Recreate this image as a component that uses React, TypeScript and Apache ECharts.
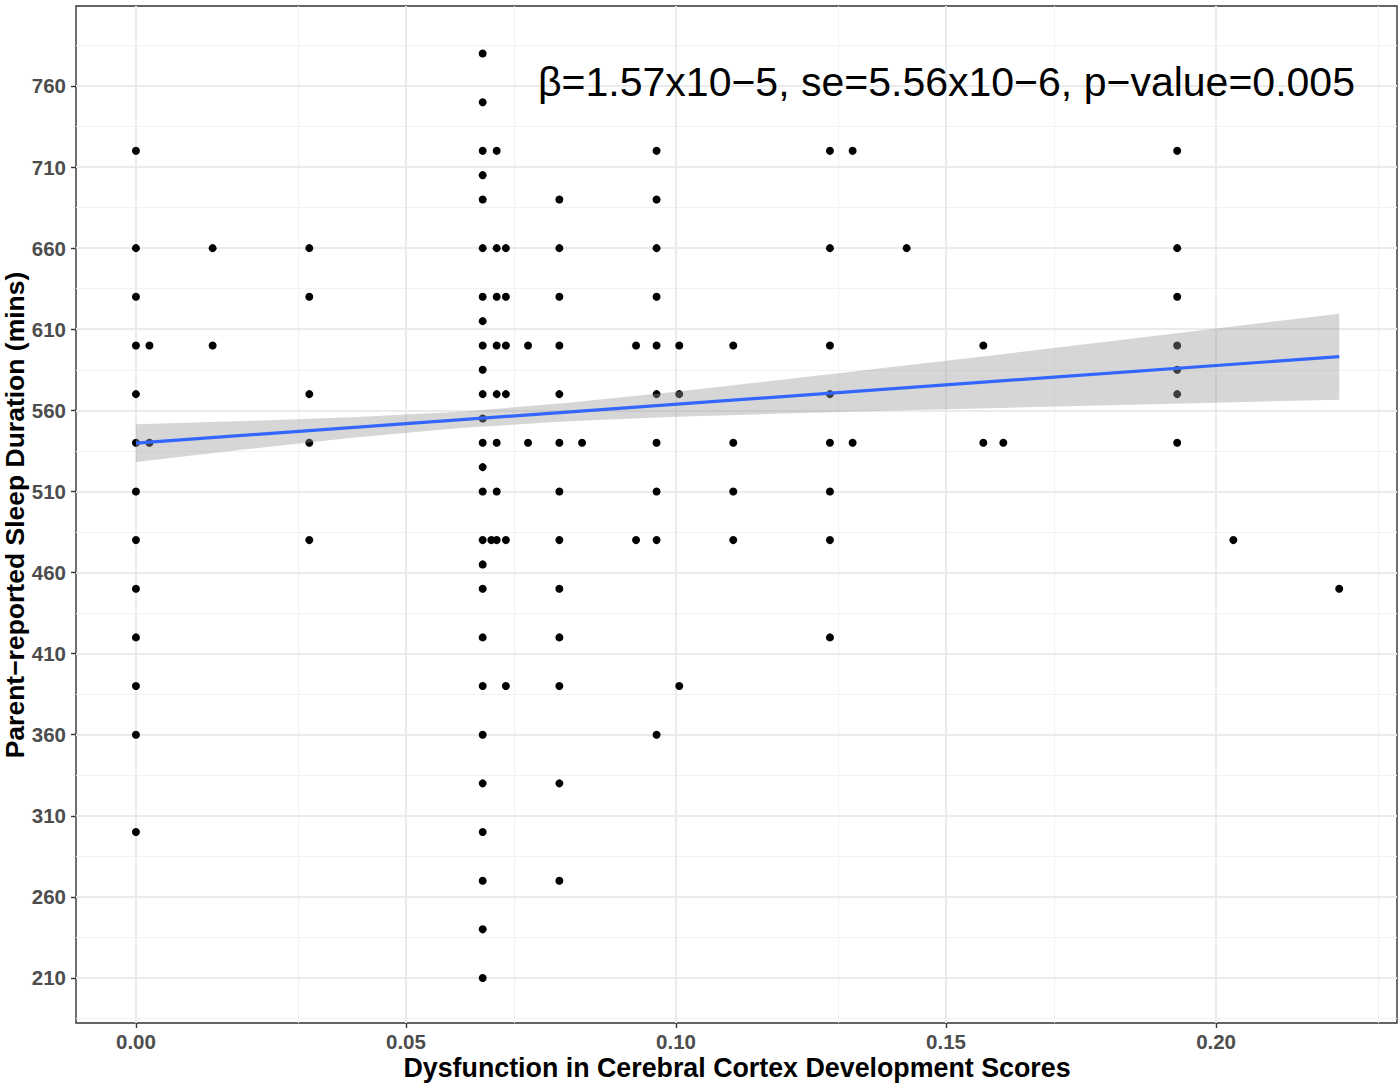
import React, { useEffect, useRef } from 'react';
import * as echarts from 'echarts';

// Axis settings
const X_MIN = -0.0111;
const X_MAX = 0.2335;
const Y_MIN = 182.25;
const Y_MAX = 809.3;
const X_TICKS = [0, 0.05, 0.1, 0.15, 0.2];
const X_MINOR = [0.025, 0.075, 0.125, 0.175, 0.225];
const Y_TICKS = [210, 260, 310, 360, 410, 460, 510, 560, 610, 660, 710, 760];
const Y_MINOR = [185, 235, 285, 335, 385, 435, 485, 535, 585, 635, 685, 735, 785];

// Scatter data: x positions of columns and y values in each column
const COL_X = [
  0.0, 0.0025, 0.0142, 0.0321, 0.0642, 0.0658, 0.0668, 0.0685, 0.0726, 0.0784, 0.0826,
  0.0926, 0.0964, 0.1006, 0.1106, 0.1285, 0.1327, 0.1427, 0.1569, 0.1606, 0.1928, 0.2032, 0.2228,
];
const COL_Y: number[][] = [
  [720, 660, 630, 600, 570, 540, 510, 480, 450, 420, 390, 360, 300],
  [600, 540],
  [660, 600],
  [660, 630, 570, 540, 480],
  [780, 750, 720, 705, 690, 660, 630, 615, 600, 585, 570, 555, 540, 525, 510, 480, 465, 450, 420, 390, 360, 330, 300, 270, 240, 210],
  [480],
  [720, 660, 630, 600, 570, 540, 510, 480],
  [660, 630, 600, 570, 480, 390],
  [600, 540],
  [690, 660, 630, 600, 570, 540, 510, 480, 450, 420, 390, 330, 270],
  [540],
  [600, 480],
  [720, 690, 660, 630, 600, 570, 540, 510, 480, 360],
  [600, 570, 390],
  [600, 540, 510, 480],
  [720, 660, 600, 570, 540, 510, 480, 420],
  [720, 540],
  [660],
  [600, 540],
  [540],
  [720, 660, 630, 600, 585, 570, 540],
  [480],
  [450],
];

// Fitted line and confidence band
const FIT_X = [0, 0.2228];
const FIT_Y = [539.8, 593.1];
const BAND_X = [0, 0.02, 0.04, 0.06, 0.08, 0.1, 0.12, 0.14, 0.16, 0.18, 0.2, 0.2228];
const BAND_LOWER = [528.2, 535.8, 543.1, 549.1, 553.2, 556.0, 558.0, 559.9, 561.5, 563.1, 564.7, 566.6];
const BAND_UPPER = [551.4, 553.4, 555.7, 559.1, 564.6, 571.5, 579.0, 586.7, 594.5, 602.5, 610.5, 619.6];

const ANNOTATION = 'β=1.57x10−5, se=5.56x10−6, p−value=0.005';
const X_TITLE = 'Dysfunction in Cerebral Cortex Development Scores';
const Y_TITLE = 'Parent−reported Sleep Duration (mins)';

const FONT = '"Liberation Sans", Arial, Helvetica, sans-serif';

export default function App() {
  const ref = useRef<HTMLDivElement>(null);

  useEffect(() => {
    if (!ref.current) return;
    const chart = echarts.init(ref.current, null, { renderer: 'svg' });

    const points: number[][] = [];
    COL_X.forEach((x, i) => COL_Y[i].forEach((y) => points.push([x, y])));

    const gridLines: any[] = [];
    X_MINOR.forEach((v) => gridLines.push({ xAxis: v, lineStyle: { color: '#F2F2F2', width: 1, type: 'solid' } }));
    Y_MINOR.forEach((v) => gridLines.push({ yAxis: v, lineStyle: { color: '#F2F2F2', width: 1, type: 'solid' } }));
    X_TICKS.forEach((v) => gridLines.push({ xAxis: v, lineStyle: { color: '#EBEBEB', width: 2, type: 'solid' } }));
    Y_TICKS.forEach((v) => gridLines.push({ yAxis: v, lineStyle: { color: '#EBEBEB', width: 2, type: 'solid' } }));

    const option: any = {
      animation: false,
      backgroundColor: '#ffffff',
      grid: {
        left: 76,
        right: 3,
        top: 6,
        bottom: 65,
        show: true,
        borderColor: '#333333',
        borderWidth: 1.4,
        backgroundColor: 'transparent',
      },
      xAxis: {
        type: 'value',
        min: X_MIN,
        max: X_MAX,
        axisLine: { show: false, onZero: false },
        splitLine: { show: false },
        axisTick: { show: true, customValues: X_TICKS, length: 5, lineStyle: { color: '#333333', width: 1.4 } },
        axisLabel: {
          customValues: X_TICKS,
          formatter: (v: number) => v.toFixed(2),
          color: '#4D4D4D',
          fontWeight: 'bold',
          fontSize: 20.5,
          fontFamily: FONT,
          margin: 8,
        },
      },
      yAxis: {
        type: 'value',
        min: Y_MIN,
        max: Y_MAX,
        axisLine: { show: false, onZero: false },
        splitLine: { show: false },
        axisTick: { show: true, customValues: Y_TICKS, length: 5, lineStyle: { color: '#333333', width: 1.4 } },
        axisLabel: {
          customValues: Y_TICKS,
          color: '#4D4D4D',
          fontWeight: 'bold',
          fontSize: 20.5,
          fontFamily: FONT,
          margin: 10,
        },
      },
      series: [
        {
          type: 'scatter',
          data: points,
          symbol: 'circle',
          symbolSize: 8,
          itemStyle: { color: '#000000', opacity: 1 },
          z: 3,
          silent: true,
          markLine: {
            silent: true,
            symbol: ['none', 'none'],
            label: { show: false },
            z: 1,
            data: gridLines,
          },
        },
        {
          type: 'custom',
          silent: true,
          z: 4,
          clip: true,
          data: [[BAND_X[0], BAND_LOWER[0]]],
          renderItem: (params: any, api: any) => {
            if (params.dataIndex !== 0) return null;
            const pts: number[][] = [];
            for (let i = 0; i < BAND_X.length; i++) pts.push(api.coord([BAND_X[i], BAND_UPPER[i]]));
            for (let i = BAND_X.length - 1; i >= 0; i--) pts.push(api.coord([BAND_X[i], BAND_LOWER[i]]));
            return {
              type: 'polygon',
              shape: { points: pts },
              style: { fill: 'rgba(153,153,153,0.4)', stroke: 'none' },
            };
          },
        },
        {
          type: 'line',
          data: FIT_X.map((x, i) => [x, FIT_Y[i]]),
          showSymbol: false,
          symbol: 'none',
          lineStyle: { color: '#3366FF', width: 3.2 },
          z: 5,
          silent: true,
        },
      ],
      graphic: [
        {
          type: 'text',
          x: 538,
          y: 82,
          z: 10,
          style: {
            text: ANNOTATION,
            font: `41px ${FONT}`,
            fill: '#000000',
            align: 'left',
            verticalAlign: 'middle',
            textAlign: 'left',
            textVerticalAlign: 'middle',
          },
        },
        {
          type: 'text',
          x: 737,
          y: 1068,
          z: 10,
          style: {
            text: X_TITLE,
            font: `bold 26.8px ${FONT}`,
            fill: '#000000',
            align: 'center',
            verticalAlign: 'middle',
            textAlign: 'center',
            textVerticalAlign: 'middle',
          },
        },
        {
          type: 'text',
          x: 15,
          y: 515,
          rotation: Math.PI / 2,
          z: 10,
          style: {
            text: Y_TITLE,
            font: `bold 26.5px ${FONT}`,
            fill: '#000000',
            align: 'center',
            verticalAlign: 'middle',
            textAlign: 'center',
            textVerticalAlign: 'middle',
          },
        },
      ],
    };

    chart.setOption(option);
    return () => chart.dispose();
  }, []);

  return (
    <div
      ref={ref}
      style={{ position: 'fixed', left: 0, top: 0, width: 1400, height: 1088, background: '#ffffff' }}
    />
  );
}
